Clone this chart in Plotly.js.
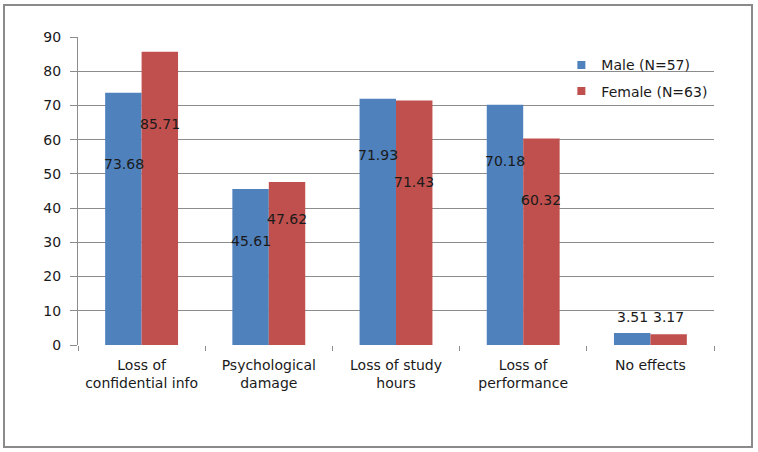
<!DOCTYPE html>
<html>
<head>
<meta charset="utf-8">
<script src="https://cdn.plot.ly/plotly-3.0.1.min.js"></script>
<style>
  html, body { margin: 0; padding: 0; background: #ffffff; }
  #wrap { position: relative; width: 758px; height: 452px; }
  #chart { position: absolute; left: 0; top: 0; width: 758px; height: 452px; }
  #frame { position: absolute; left: 3px; top: 4px; width: 746px; height: 440px;
           border: 2px solid #8a8a8a; pointer-events: none; }
</style>
</head>
<body>
<div id="wrap">
  <div id="chart"></div>
  <div id="frame"></div>
</div>
<script>
// ---- data ----
const categories = [
  "Loss of<br>confidential info",
  "Psychological<br>damage",
  "Loss of study<br>hours",
  "Loss of<br>performance",
  "No effects"
];
const maleValues = [73.68, 45.61, 71.93, 70.18, 3.51];
const femaleValues = [85.71, 47.62, 71.43, 60.32, 3.17];
const maleName = "Male (N=57)";
const femaleName = "Female (N=63)";
const yTickValues = [0, 10, 20, 30, 40, 50, 60, 70, 80, 90];

// ---- styles ----
const BLUE = "#4f81bd";
const RED = "#c0504d";
const GRID = "#8c8c8c";
const FONT = "DejaVu Sans, Liberation Sans, Arial, sans-serif";

// pixel placement of the value labels relative to each bar top (style only)
const maleLabelShift = [-71, -52, -56, -56, 16];
const femaleLabelShift = [-72, -37, -81, -61, 17];

const traces = [
  { type: "bar", x: categories, y: maleValues, name: maleName,
    marker: { color: BLUE }, showlegend: false, hoverinfo: "x+y" },
  { type: "bar", x: categories, y: femaleValues, name: femaleName,
    marker: { color: RED }, showlegend: false, hoverinfo: "x+y" },
  { type: "scatter", mode: "markers", x: [null], y: [null], name: maleName,
    marker: { color: BLUE, symbol: "square", size: 8 }, legendgroup: "m" },
  { type: "scatter", mode: "markers", x: [null], y: [null], name: femaleName,
    marker: { color: RED, symbol: "square", size: 8 }, legendgroup: "f" }
];

const annotations = [];
categories.forEach((c, i) => {
  annotations.push({ x: c, y: maleValues[i], text: maleValues[i].toFixed(2),
    xref: "x", yref: "y", showarrow: false, xshift: -18, yshift: maleLabelShift[i],
    font: { family: FONT, size: 14, color: "#1a1a1a" } });
  annotations.push({ x: c, y: femaleValues[i], text: femaleValues[i].toFixed(2),
    xref: "x", yref: "y", showarrow: false, xshift: 18, yshift: femaleLabelShift[i],
    font: { family: FONT, size: 14, color: "#1a1a1a" } });
});

const layout = {
  width: 758, height: 452,
  margin: { l: 78, r: 44, t: 37, b: 107, pad: 0 },
  paper_bgcolor: "#ffffff", plot_bgcolor: "#ffffff",
  font: { family: FONT, size: 14, color: "#1a1a1a" },
  barmode: "group", bargap: 0.427, bargroupgap: 0,
  showlegend: true,
  legend: { x: 0.76, y: 0.96, xanchor: "left", yanchor: "top",
            bgcolor: "rgba(0,0,0,0)", font: { family: FONT, size: 14, color: "#1a1a1a" },
            traceorder: "grouped", tracegroupgap: 5, itemwidth: 30 },
  xaxis: {
    type: "category", showgrid: false, zeroline: false, showline: false,
    ticks: "outside", tickson: "boundaries", ticklen: 5, tickcolor: GRID, tickwidth: 1,
    ticklabelstandoff: 10, tickfont: { family: FONT, size: 14, color: "#1a1a1a" },
    fixedrange: true
  },
  yaxis: {
    range: [0, 90], tickvals: yTickValues, showgrid: true, gridcolor: GRID, gridwidth: 1,
    zeroline: true, zerolinecolor: "#ffffff", showline: true, linecolor: GRID, linewidth: 1,
    ticks: "outside", ticklen: 7, tickcolor: GRID, ticklabelstandoff: 6,
    tickfont: { family: FONT, size: 14, color: "#1a1a1a" }, fixedrange: true
  },
  annotations: annotations
};

Plotly.newPlot("chart", traces, layout, { displayModeBar: false, staticPlot: true });
</script>
</body>
</html>
